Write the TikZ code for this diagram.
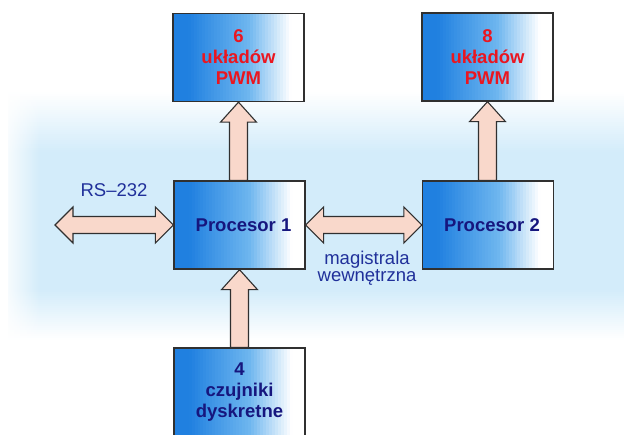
\documentclass[tikz,border=0pt]{standalone}
\usepackage{fontspec}
\setmainfont{Liberation Sans}
\usetikzlibrary{calc,fadings}
\definecolor{boxblue}{HTML}{2080E0}
\definecolor{boxmid}{HTML}{6EB6EF}
\definecolor{boxedge}{HTML}{303030}
\definecolor{bandblue}{HTML}{D3ECFA}
\definecolor{pwmred}{HTML}{EA1620}
\definecolor{navy}{HTML}{16167E}
\definecolor{labblue}{HTML}{20309A}
\definecolor{arrowpink}{HTML}{F9D8CB}
\tikzfading[name=fadeR, left color=transparent!0, right color=transparent!100]
\begin{document}
\begin{tikzpicture}[x=1pt,y=-1pt,
  blk/.style={draw=boxedge, line width=1.3pt, fill=white, minimum width=131pt, minimum height=88pt, inner sep=0pt, align=center, font=\bfseries\fontsize{18.5}{21}\selectfont,
    path picture={
      \foreach \i in {0,...,43}{
        \pgfmathsetmacro\fr{(\i+0.5)/44}
        \pgfmathsetmacro\pa{min(100,max(0,100*(\fr-0.12)/0.46))}
        \pgfmathsetmacro\pb{min(100,max(0,100*(\fr-0.58)/0.32))}
        \path let \p1=(path picture bounding box.south west), \p2=(path picture bounding box.north east) in
          [fill=white!\pb!boxmid!\pa!boxblue] ({\x1+\i*(\x2-\x1)/44-0.3pt},\y1) rectangle ({\x1+(\i+1)*(\x2-\x1)/44+0.3pt},\y2);
      }
    }},
  fatarrow/.style={draw=boxedge, fill=arrowpink, line width=1.1pt, line join=miter},
  fatup/.style={to path={let \p1=(\tikztostart), \p2=(\tikztotarget) in
    (\x2,\y2) -- (\x2+18pt,\y2-20pt) -- (\x2+9pt,\y2-20pt) -- (\x2+9pt,\y1) -- (\x2-9pt,\y1) -- (\x2-9pt,\y2-20pt) -- (\x2-18pt,\y2-20pt) -- cycle}},
  fatboth/.style={to path={let \p1=(\tikztostart), \p2=(\tikztotarget) in
    (\x1,\y1) -- (\x1+18pt,\y1+18pt) -- (\x1+18pt,\y1+8.5pt) -- (\x2-18pt,\y1+8.5pt) -- (\x2-18pt,\y1+18pt) -- (\x2,\y1) -- (\x2-18pt,\y1-18pt) -- (\x2-18pt,\y1-8.5pt) -- (\x1+18pt,\y1-8.5pt) -- (\x1+18pt,\y1-18pt) -- cycle}},
  lbl/.style={text=labblue, font=\fontsize{18.5}{17.5}\selectfont, align=center, inner sep=0pt}
]
\useasboundingbox (0,0) rectangle (624,434);
\clip (0,0) rectangle (624,434);
% background band
\foreach \i in {0,...,29}{
  \pgfmathsetmacro\pp{100*(\i+0.5)/30}
  \fill[bandblue!\pp!white] (8,{92+\i*2}) rectangle (624,{92+(\i+1)*2+0.4});
}
\fill[bandblue] (8,152) rectangle (624,290.4);
\foreach \i in {0,...,24}{
  \pgfmathsetmacro\pp{100-100*(\i+0.5)/25}
  \fill[bandblue!\pp!white] (8,{290+\i*2}) rectangle (624,{290+(\i+1)*2+0.4});
}
\fill[white, path fading=fadeR] (0,88) rectangle (40,342);
% boxes
\node[blk, text=pwmred] (pwm6) at (238.5,57.5) {6\\układów\\PWM};
\node[blk, text=pwmred] (pwm8) at (487.5,57) {8\\układów\\PWM};
\node[blk, text=navy] (p1) at (239.5,225) {\hspace*{8pt}Procesor 1};
\node[blk, text=navy] (p2) at (488,225) {\hspace*{8pt}Procesor 2};
\node[blk, text=navy] (czuj) at (239.5,392) {4\\czujniki\\dyskretne};
\coordinate (rsend) at (55,225);
% arrows
\draw[fatarrow, fatup] (p1.north) to (pwm6.south);
\draw[fatarrow, fatup] (p2.north) to (pwm8.south);
\draw[fatarrow, fatup] (czuj.north) to (p1.south);
\draw[fatarrow, fatboth] (rsend) to (p1.west);
\draw[fatarrow, fatboth] (p1.east) to (p2.west);
% labels
\node[lbl] (rs) at (114,190) {RS–232};
\node[lbl] (mag) at (367,268) {magistrala\\wewnętrzna};
\end{tikzpicture}
\end{document}
